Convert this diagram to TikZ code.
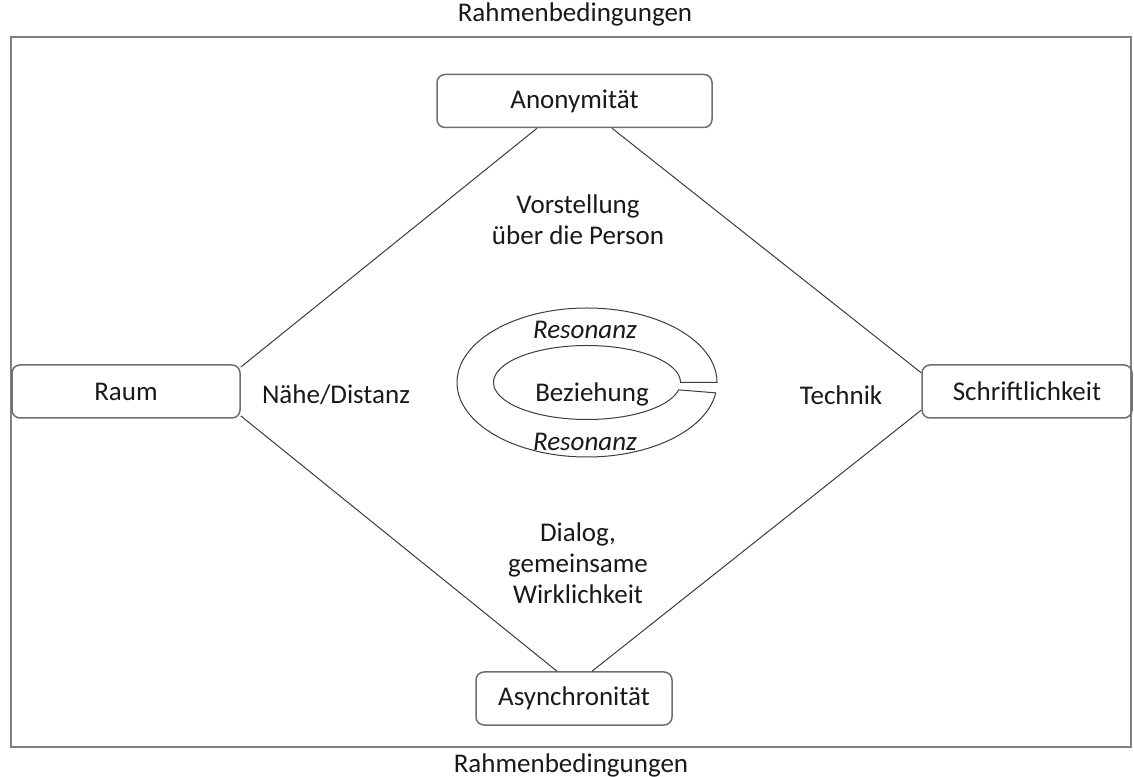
\documentclass[tikz,border=0pt]{standalone}
\usepackage{fontspec}
\setmainfont{Carlito}
\usetikzlibrary{calc}
\definecolor{framegray}{HTML}{808080}
\definecolor{boxgray}{HTML}{6E6E6E}
\definecolor{linegray}{HTML}{3C3C3C}
\tikzset{
    txt/.style={font=\fontsize{13.5}{15.5}\selectfont, text=black!90, align=center, inner sep=0pt},
    box/.style={txt, draw=boxgray, line width=0.75pt, rounded corners=4pt, minimum height=26.5pt},
    link/.style={draw=linegray, line width=0.5pt}
}
\begin{document}
\begin{tikzpicture}[x=0.5pt, y=0.5pt]
            \useasboundingbox (0, 0) rectangle (1134, 776);

            \draw[framegray, line width=1pt] (11, 29) rectangle (1131, 739);
            \node[txt] (top) at (575, 762) {Rahmenbedingungen};
            \node[txt] (bottom) at (571, 11) {Rahmenbedingungen};

            \node[box, minimum width=137.5pt] (anon) at (574.5, 675) {Anonymität};
            \node[box, minimum width=114pt] (raum) at (126, 384.5) {Raum};
            \node[box, minimum width=105pt] (schrift) at (1027, 384.5) {Schriftlichkeit};
            \node[box, minimum width=98pt] (async) at (574, 77.5) {Asynchronität};

            \draw[link] ([xshift=-18.75pt]anon.south) -- (raum.12);
            \draw[link] ([xshift=18.75pt]anon.south) -- (schrift.170);
            \draw[link] (raum.-12) -- ([xshift=-8.5pt]async.north);
            \draw[link] (schrift.190) -- ([xshift=9pt]async.north);

            \node[txt] (vorstellung) at (578, 556) {Vorstellung\\über die Person};
            \node[txt] (naehe) at (336, 381) {Nähe/Distanz};
            \node[txt] (technik) at (841, 381) {Technik};
            \node[txt] (dialog) at (578, 213) {Dialog,\\gemeinsame\\Wirklichkeit};

            \coordinate (ring) at (587, 393.5);
            \draw[link] ($(ring)+(0:130 and 74.5)$) arc[start angle=0, end angle=352, x radius=130, y radius=74.5]
                -- ($(ring)+(-11.5:93.5 and 37)$) arc[start angle=-11.5, end angle=-360, x radius=93.5, y radius=37] -- cycle;
            \node[txt] (beziehung) at (592, 382) {Beziehung};
            \node[txt, font=\fontsize{13.5}{15.5}\selectfont\itshape] (reso1) at (585, 446) {Resonanz};
            \node[txt, font=\fontsize{13.5}{15.5}\selectfont\itshape] (reso2) at (585, 334) {Resonanz};
\end{tikzpicture}
\end{document}
